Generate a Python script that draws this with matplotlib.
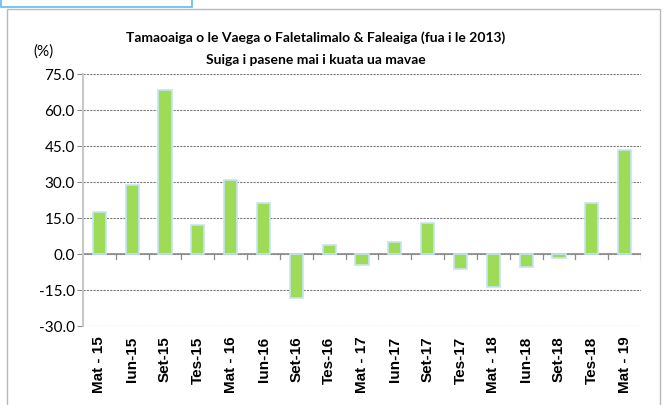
import matplotlib
matplotlib.use('Agg')
import matplotlib.pyplot as plt
from matplotlib.patches import Rectangle

# Quarterly change data
quarters = ['Mat - 15', 'Iun-15', 'Set-15', 'Tes-15', 'Mat - 16', 'Iun-16', 'Set-16', 'Tes-16',
            'Mat - 17', 'Iun-17', 'Set-17', 'Tes-17', 'Mat - 18', 'Iun-18', 'Set-18', 'Tes-18', 'Mat - 19']
change = [17.5, 28.8, 68.3, 12.0, 30.8, 21.2, -18.3, 3.7,
          -4.6, 5.0, 13.0, -6.2, -13.7, -5.4, -1.7, 21.2, 43.3]
yticks = [-30.0, -15.0, 0.0, 15.0, 30.0, 45.0, 60.0, 75.0]

narrow = ['Lato', 'DejaVu Sans']

fig = plt.figure(figsize=(6.64, 4.06), dpi=100)
ax = fig.add_axes([83/664, 1 - 327/406, 558/664, 252/406])

# outer chart frame and selection box
fig.patches.append(Rectangle((7/664, -0.01), 653/664, 1 - 10/406 + 0.01, transform=fig.transFigure,
                             fill=False, edgecolor='#b8b8b8', linewidth=1.0))
fig.patches.append(Rectangle((1/664, 1 - 8/406), 191/664, 8/406, transform=fig.transFigure,
                             fill=False, edgecolor='#5bbcf0', linewidth=1.2))

x = list(range(len(quarters)))
ax.bar(x, change, width=0.4, color='#9edc58', edgecolor='#c5e4f7', linewidth=1.2, zorder=3)

ax.set_xlim(-0.5, len(quarters) - 0.5)
ax.set_ylim(-30, 75)
ax.set_yticks(yticks)
ax.set_yticklabels([f'{v:.1f}' for v in yticks], family=narrow, fontsize=11)
ax.yaxis.grid(True, linestyle=(0, (2, 1)), color='#7a7a7a', linewidth=0.8)
ax.set_axisbelow(True)
ax.tick_params(axis='y', length=4, color='#888888', pad=2)

# zero line with category ticks
ax.axhline(0, color='#8a8a8a', linewidth=1.2, zorder=2)
for b in range(1, len(quarters) + 1):
    ax.plot([b - 0.5, b - 0.5], [0, -2], color='#8a8a8a', linewidth=0.9, zorder=2)

ax.set_xticks(x)
ax.set_xticklabels(quarters, rotation=90, fontsize=11, fontweight='bold', family='Liberation Sans')
ax.tick_params(axis='x', length=0, pad=7)

for s in ['top', 'right', 'bottom']:
    ax.spines[s].set_visible(False)
ax.spines['left'].set_color('#c8c8c8')
ax.spines['left'].set_linewidth(1.5)

fig.text(316/664, 1 - 38/406, 'Tamaoaiga o le Vaega o Faletalimalo & Faleaiga (fua i le 2013)',
         ha='center', va='center', fontsize=10, fontweight='bold', family=narrow)
fig.text(316/664, 1 - 60/406, 'Suiga i pasene mai i kuata ua mavae',
         ha='center', va='center', fontsize=10, fontweight='bold', family=narrow)
fig.text(44/664, 1 - 52/406, '(%)', ha='center', va='center', fontsize=11, family=narrow)

fig.savefig('out.png', dpi=100)
